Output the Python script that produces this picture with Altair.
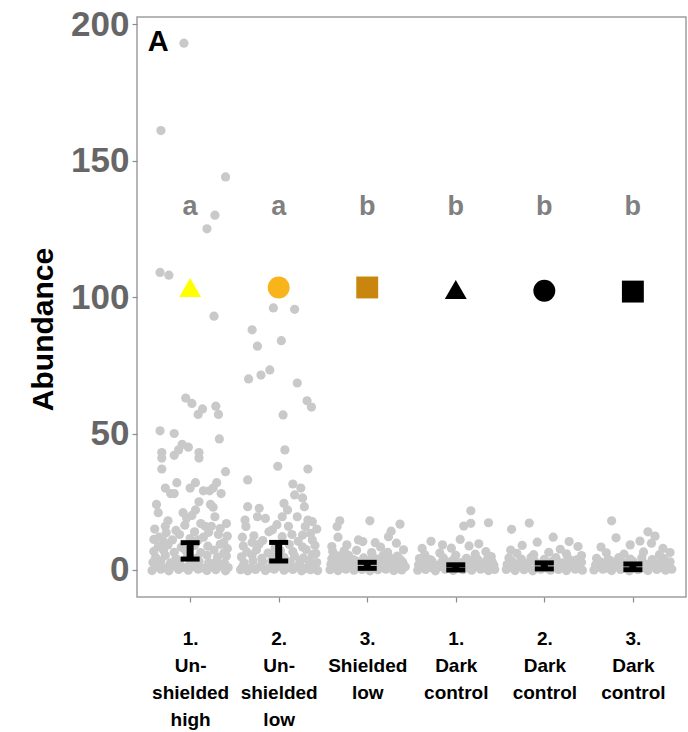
import json
import altair as alt
import pandas as pd

# ---------------- data ----------------
group_index = [1, 2, 3, 4, 5, 6]
x_label_lines = [["1.", "Un-", "shielded", "high"],
                 ["2.", "Un-", "shielded", "low"],
                 ["3.", "Shielded", "low"],
                 ["1.", "Dark", "control"],
                 ["2.", "Dark", "control"],
                 ["3.", "Dark", "control"]]
letters = ["a", "a", "b", "b", "b", "b"]
letter_y = [133, 133, 133, 133, 133, 133]
symbol_shapes = ["triangle-up", "circle", "square", "triangle-up", "circle", "square"]
symbol_colors = ["#FFFF00", "#F9B31B", "#C8860F", "#000000", "#000000", "#000000"]
symbol_y = [103.5, 103.5, 103.5, 102.8, 102.3, 102.0]
means = [6.9, 6.7, 1.7, 0.9, 1.5, 1.2]
ci_low = [4.0, 3.3, 0.6, 0.0, 0.4, 0.1]
ci_high = [10.0, 10.1, 2.8, 1.9, 2.6, 2.2]

# (jitter offset, abundance) per treatment
g1_points = [
    (-0.07, 193), (-0.33, 161), (0.40, 144), (0.28, 130), (0.19, 125), (-0.34, 109), (-0.24, 108), (0.27, 93),
    (-0.05, 63), (0.02, 61), (0.14, 59), (0.09, 57), (0.29, 60), (0.32, 57), (-0.34, 51), (-0.18, 50), (0.33, 48),
    (-0.09, 46), (-0.02, 45), (-0.13, 44), (-0.32, 43), (-0.32, 41), (-0.18, 42), (0.10, 43), (0.10, 41), (-0.32, 37), (0.40, 36),
    (-0.15, 32), (0.00, 30), (0.06, 32), (0.15, 29), (0.22, 29), (-0.22, 28), (-0.18, 28), (-0.28, 30), (0.30, 32), (0.26, 30), (0.35, 28),
    (-0.38, 24), (-0.36, 21), (-0.08, 21), (0.06, 22), (0.23, 24), (0.26, 23), (0.10, 25),
    (-0.28, 16), (-0.04, 19), (0.17, 16), (0.24, 16), (0.41, 17), (0.32, 13), (-0.12, 13), (0.05, 14), (-0.35, 12), (-0.20, 11), (0.15, 12), (0.38, 10),
    (-0.25, 18), (0.02, 20), (-0.40, 15), (0.28, 19.5), (0.12, 17), (-0.30, 10.5), (0.0, 11.5),
    (-0.16, 14.5), (0.21, 13.8), (-0.41, 11.2), (0.34, 15.2), (-0.06, 16.4), (0.09, 11.0), (-0.27, 13.6), (0.42, 12.4),
    (-0.36, 8.6), (-0.25, 9.2), (-0.10, 8.3), (0.05, 9.0), (0.20, 8.7), (0.34, 9.4), (0.42, 7.8),
    (-0.41, 6.8), (-0.30, 7.2), (-0.18, 6.5), (-0.05, 7.1), (0.12, 6.4), (0.27, 7.3), (0.38, 6.2),
    (-0.39, 4.6), (-0.28, 5.3), (-0.16, 4.2), (-0.03, 5.0), (0.08, 4.4), (0.19, 5.4), (0.31, 4.7), (0.41, 5.1),
    (-0.42, 2.8), (-0.33, 3.3), (-0.22, 2.6), (-0.12, 3.1), (0.00, 2.4), (0.10, 3.2), (0.21, 2.7), (0.30, 3.4), (0.39, 2.5),
    (-0.38, 1.2), (-0.27, 0.8), (-0.17, 1.4), (-0.06, 0.9), (0.04, 1.3), (0.15, 0.7), (0.25, 1.1), (0.35, 1.4), (0.43, 0.9),
    (-0.43, -0.2), (-0.33, 0.3), (-0.24, -0.3), (-0.13, 0.2), (-0.02, -0.1), (0.09, 0.3), (0.19, -0.2), (0.29, 0.1), (0.40, -0.3),
]
g2_points = [
    (-0.06, 96), (0.18, 95.5), (-0.30, 88), (-0.24, 82), (0.03, 84), (-0.34, 70), (-0.20, 71.4), (-0.10, 73.3),
    (0.21, 68.5), (0.32, 62), (0.37, 59.7), (0.05, 56.8), (0.07, 44), (-0.01, 38), (0.33, 37), (-0.35, 33),
    (0.18, 27.5), (0.27, 26.4), (0.06, 24.4), (0.29, 23.2), (-0.35, 23.2), (-0.22, 22.6), (0.10, 22), (0.25, 30), (0.16, 31.5),
    (-0.38, 18.3), (-0.24, 19.5), (-0.15, 18.9), (0.04, 19.5), (0.21, 19.5), (0.33, 18.3), (0.38, 17.7), (0.30, 15.9),
    (-0.37, 15.9), (-0.07, 14.7), (-0.11, 14), (0.36, 13.4), (0.38, 11), (0.04, 12.2), (-0.28, 12.5), (0.15, 13), (-0.18, 10.8), (0.22, 10.5),
    (-0.41, 12.0), (0.27, 12.8), (-0.02, 16.6), (0.43, 15.0), (-0.30, 10.1), (0.11, 16.0),
    (-0.40, 8.8), (-0.22, 9.5), (-0.04, 8.1), (0.12, 9.3), (0.27, 8.4), (0.41, 9.0),
    (-0.36, 6.6), (-0.25, 7.4), (-0.12, 6.2), (0.02, 7.0), (0.16, 6.7), (0.31, 7.5), (0.42, 6.0),
    (-0.42, 4.8), (-0.30, 5.5), (-0.19, 4.3), (-0.07, 5.2), (0.06, 4.6), (0.18, 5.1), (0.28, 4.4), (0.38, 5.6),
    (-0.39, 2.6), (-0.29, 3.4), (-0.18, 2.9), (-0.08, 3.3), (0.03, 2.5), (0.13, 3.0), (0.24, 2.8), (0.34, 3.3), (0.43, 2.7),
    (-0.41, 1.1), (-0.31, 0.7), (-0.21, 1.3), (-0.10, 0.8), (0.00, 1.4), (0.11, 0.9), (0.21, 1.2), (0.31, 0.6), (0.40, 1.3),
    (-0.43, 0.1), (-0.35, -0.3), (-0.26, 0.2), (-0.15, -0.2), (-0.05, 0.3), (0.06, -0.1), (0.16, 0.2), (0.26, -0.3), (0.36, 0.1), (0.44, -0.2),
]
g3_points = [
    (-0.31, 18), (0.03, 18), (0.37, 16.8), (-0.34, 15.9), (0.27, 14.2), (0.24, 12.2), (-0.33, 12), (-0.10, 11),
    (0.09, 10), (-0.23, 9.2), (-0.05, 10.4), (0.33, 9.8), (-0.40, 8.6), (0.15, 8.4),
    (-0.39, 6.8), (-0.12, 7.2), (0.23, 6.5), (0.41, 7.4), (-0.26, 7.0), (0.05, 6.4),
    (-0.33, 5.2), (-0.21, 5.4), (0.06, 4.9), (0.18, 5.3), (0.34, 5.1),
    (-0.40, 4.1), (-0.27, 4.3), (-0.16, 3.8), (-0.04, 4.4), (0.11, 4.0), (0.27, 4.2), (0.37, 3.9),
    (-0.36, 3.2), (-0.25, 2.8), (-0.13, 3.3), (0.01, 3.0), (0.10, 2.7), (0.20, 3.4), (0.31, 3.1), (0.40, 2.9),
    (-0.41, 2.1), (-0.31, 2.3), (-0.19, 1.8), (-0.08, 2.4), (0.05, 2.0), (0.14, 1.7), (0.24, 2.2), (0.33, 2.4), (0.41, 1.9),
    (-0.38, 1.2), (-0.29, 0.8), (-0.20, 1.3), (-0.11, 0.9), (-0.02, 1.1), (0.08, 0.7), (0.17, 1.4), (0.26, 1.0), (0.35, 0.8), (0.43, 1.2),
    (-0.42, 0.1), (-0.33, -0.2), (-0.24, 0.3), (-0.15, -0.1), (-0.06, 0.2), (0.03, -0.3), (0.12, 0.1), (0.21, 0.3), (0.30, -0.2), (0.39, 0.0),
]
g4_points = [
    (0.17, 21.7), (0.17, 17.1), (0.09, 16.1), (0.37, 17.3), (-0.38, 7.9), (-0.15, 9.2), (0.15, 8.8), (0.34, 6.7),
    (-0.28, 10.5), (0.05, 11.2), (-0.05, 8.0), (0.26, 9.6),
    (-0.35, 5.6), (-0.18, 6.2), (0.00, 5.4), (0.22, 5.8), (0.40, 4.9),
    (-0.41, 4.2), (-0.29, 3.8), (-0.14, 4.4), (-0.02, 3.9), (0.12, 4.3), (0.25, 3.7), (0.36, 4.1),
    (-0.38, 2.9), (-0.27, 3.3), (-0.16, 2.7), (-0.05, 3.2), (0.07, 2.8), (0.18, 3.4), (0.29, 2.6), (0.41, 3.0),
    (-0.42, 1.9), (-0.32, 2.2), (-0.21, 1.7), (-0.09, 2.3), (0.02, 1.8), (0.13, 2.1), (0.23, 1.6), (0.33, 2.3), (0.43, 1.8),
    (-0.37, 1.1), (-0.26, 0.7), (-0.17, 1.3), (-0.07, 0.8), (0.04, 1.2), (0.14, 0.9), (0.24, 1.4), (0.34, 0.7), (0.42, 1.0),
    (-0.43, -0.1), (-0.34, 0.2), (-0.23, -0.3), (-0.12, 0.3), (-0.03, -0.2), (0.08, 0.1), (0.18, -0.1), (0.28, 0.3), (0.37, -0.2), (0.44, 0.2),
]
g5_points = [
    (-0.17, 17.2), (-0.37, 14.9), (0.28, 10.4), (-0.38, 7.3), (0.10, 12.0), (-0.08, 10.2), (0.38, 8.6), (0.18, 7.6), (-0.25, 9.0),
    (-0.31, 6.1), (-0.12, 5.6), (0.05, 6.5), (0.25, 5.9), (0.42, 5.3),
    (-0.40, 4.4), (-0.26, 4.0), (-0.15, 4.6), (0.00, 3.9), (0.13, 4.5), (0.27, 4.1), (0.37, 3.8),
    (-0.36, 3.1), (-0.24, 2.7), (-0.11, 3.3), (-0.01, 2.9), (0.09, 3.2), (0.20, 2.6), (0.32, 3.3), (0.42, 2.8),
    (-0.42, 2.0), (-0.30, 1.7), (-0.19, 2.3), (-0.06, 1.8), (0.05, 2.2), (0.16, 1.9), (0.26, 2.4), (0.36, 1.7),
    (-0.38, 1.0), (-0.28, 1.3), (-0.18, 0.8), (-0.08, 1.2), (0.02, 0.7), (0.11, 1.3), (0.21, 0.9), (0.31, 1.1), (0.40, 0.8),
    (-0.43, 0.2), (-0.33, -0.2), (-0.23, 0.1), (-0.13, -0.3), (-0.04, 0.3), (0.07, -0.1), (0.16, 0.2), (0.25, -0.2), (0.35, 0.3), (0.43, -0.1),
]
g6_points = [
    (-0.24, 18), (0.17, 14), (0.25, 12.4), (-0.19, 11.8), (-0.03, 9.2), (0.34, 7.9), (0.21, 9.8), (-0.36, 8.4), (0.08, 10.6),
    (-0.30, 6.3), (-0.10, 5.8), (0.12, 6.6), (0.30, 5.6), (0.42, 6.4),
    (-0.41, 4.3), (-0.28, 3.9), (-0.16, 4.5), (-0.03, 4.0), (0.10, 4.4), (0.22, 3.8), (0.35, 4.2),
    (-0.37, 3.0), (-0.25, 3.3), (-0.12, 2.7), (0.00, 3.2), (0.11, 2.8), (0.22, 3.4), (0.31, 2.6), (0.42, 3.0),
    (-0.42, 1.9), (-0.32, 2.2), (-0.20, 1.6), (-0.08, 2.3), (0.03, 1.8), (0.15, 2.1), (0.25, 1.7), (0.36, 2.2),
    (-0.39, 1.1), (-0.29, 0.7), (-0.19, 1.3), (-0.09, 0.9), (0.01, 1.2), (0.12, 0.8), (0.22, 1.3), (0.32, 0.9), (0.41, 1.2),
    (-0.44, 0.0), (-0.34, 0.3), (-0.24, -0.2), (-0.14, 0.2), (-0.04, -0.3), (0.06, 0.1), (0.17, -0.2), (0.27, 0.2), (0.37, -0.1), (0.44, 0.3),
]
all_groups = [g1_points, g2_points, g3_points, g4_points, g5_points, g6_points]

# ---------------- tables ----------------
rows = []
for gi, pts in zip(group_index, all_groups):
    for off, val in pts:
        rows.append({"pos": gi + off, "value": val})
points_df = pd.DataFrame(rows)

summary_df = pd.DataFrame({
    "pos": group_index, "mean": means, "lo": ci_low, "hi": ci_high,
    "letter": letters, "letter_y": letter_y,
    "shape": symbol_shapes, "color": symbol_colors, "sym_y": symbol_y,
})
tag_df = pd.DataFrame({"pos": [0.64], "y": [193.5], "tag": ["A"]})

label_expr = json.dumps(x_label_lines) + "[datum.value - 1]"

FONT = "Liberation Sans"
W, H = 549, 580

x_scale = alt.Scale(domain=[0.4, 6.6], nice=False, zero=False)
y_scale = alt.Scale(domain=[-9.9, 202.6], nice=False, zero=False)

x_axis = alt.Axis(values=group_index, labelExpr=label_expr, title=None, grid=False, domain=False,
                  tickColor="#8c8c8c", tickSize=5, tickWidth=1.2,
                  labelFont=FONT, labelFontSize=19, labelFontWeight="bold", labelColor="#000000",
                  labelLineHeight=27, labelPadding=27, labelBaseline="top", labelAngle=0,
                  labelFlush=False, labelOverlap=False)
y_axis = alt.Axis(values=[0, 50, 100, 150, 200], title="Abundance", grid=False, domain=False,
                  tickColor="#8c8c8c", tickSize=5, tickWidth=1.2,
                  labelFont=FONT, labelFontSize=35, labelFontWeight="bold", labelColor="#666666",
                  labelPadding=3, labelFlush=False, labelOverlap=False,
                  titleFont=FONT, titleFontSize=30, titleFontWeight="bold", titleColor="#000000",
                  titlePadding=12, titleY=312)


def X(field):
    return alt.X(f"{field}:Q", scale=x_scale, axis=x_axis, title=None)


def Y(field):
    return alt.Y(f"{field}:Q", scale=y_scale, axis=y_axis, title="Abundance")


pts = alt.Chart(points_df).mark_circle(color="#c9c9c9", opacity=1, size=85).encode(
    x=X("pos"), y=Y("value"))

err = alt.Chart(summary_df).mark_rule(color="black", strokeWidth=7).encode(
    x=X("pos"), y=Y("lo"), y2="hi")
cap_lo = alt.Chart(summary_df).mark_tick(color="black", orient="horizontal", size=19, thickness=5, opacity=1).encode(
    x=X("pos"), y=Y("lo"))
cap_hi = alt.Chart(summary_df).mark_tick(color="black", orient="horizontal", size=19, thickness=5, opacity=1).encode(
    x=X("pos"), y=Y("hi"))

syms = alt.Chart(summary_df).mark_point(filled=True, opacity=1, size=480, strokeWidth=0).encode(
    x=X("pos"), y=Y("sym_y"),
    shape=alt.Shape("shape:N", scale=None),
    color=alt.Color("color:N", scale=None))

lett = alt.Chart(summary_df).mark_text(font=FONT, fontSize=27, fontWeight="bold", color="#808080",
                                       baseline="middle", align="center").encode(
    x=X("pos"), y=Y("letter_y"), text="letter:N")

tag = alt.Chart(tag_df).mark_text(font=FONT, fontSize=29, fontWeight="bold", color="#000000",
                                  baseline="middle", align="center").encode(
    x=X("pos"), y=Y("y"), text="tag:N")

chart = alt.layer(pts, err, cap_lo, cap_hi, syms, lett, tag).properties(
    width=W, height=H,
    autosize=alt.AutoSizeParams(type="none"),
    padding={"left": 137, "top": 17, "right": 2, "bottom": 135},
    background="white",
).configure_view(stroke="#9e9e9e", strokeWidth=1.5)

chart.save("out.html", embed_options={"renderer": "svg", "actions": False})
